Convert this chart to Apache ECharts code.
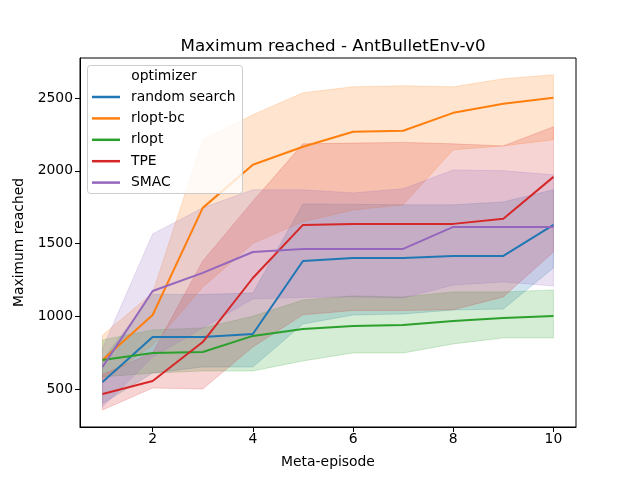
<!DOCTYPE html>
<html>
<head>
<meta charset="utf-8">
<script src="https://cdn.jsdelivr.net/npm/echarts@6/dist/echarts.min.js"></script>
<style>html,body{margin:0;padding:0;background:#fff}#c{width:640px;height:480px}</style>
</head>
<body>
<div id="c"></div>
<script>
var metaEpisodes = [1,2,3,4,5,6,7,8,9,10];
var seriesNames = ['random search','rlopt-bc','rlopt','TPE','SMAC'];
var colors = ['#1f77b4','#ff7f0e','#2ca02c','#d62728','#9467bd'];
var yTicks = [500,1000,1500,2000,2500];
var xTicks = [2,4,6,8,10];

var randomSearchMean = [548,858,858,878,1380,1401,1401,1415,1415,1628];
var randomSearchLow  = [400,610,651,651,947,1009,1016,1043,1050,1332];
var randomSearchHigh = [700,1150,1150,1160,1772,1770,1766,1766,1786,1869];

var rloptBcMean = [700,1009,1745,2041,2165,2268,2275,2398,2460,2502];
var rloptBcLow  = [560,800,1200,1500,1650,1730,1766,2144,2171,2213];
var rloptBcHigh = [871,1160,2213,2385,2536,2577,2584,2577,2632,2660];

var rloptMean = [700,748,754,865,913,933,940,968,988,1002];
var rloptLow  = [583,610,624,624,693,748,748,810,851,851];
var rloptHigh = [837,906,920,1000,1112,1140,1133,1167,1167,1181];

var tpeMean = [466,555,823,1263,1628,1635,1635,1635,1670,1958];
var tpeLow  = [356,507,500,789,1010,1040,1040,1045,1133,1442];
var tpeHigh = [600,750,1380,1790,2185,2190,2195,2185,2171,2302];

var smacMean = [651,1174,1298,1442,1463,1463,1463,1614,1614,1614];
var smacLow  = [376,720,920,1119,1130,1133,1126,1215,1236,1208];
var smacHigh = [780,1566,1745,1869,1869,1848,1876,2006,2000,1972];

var means = [randomSearchMean, rloptBcMean, rloptMean, tpeMean, smacMean];
var lows = [randomSearchLow, rloptBcLow, rloptLow, tpeLow, smacLow];
var highs = [randomSearchHigh, rloptBcHigh, rloptHigh, tpeHigh, smacHigh];

function hexA(hex, a){
  var r=parseInt(hex.substr(1,2),16),g=parseInt(hex.substr(3,2),16),b=parseInt(hex.substr(5,2),16);
  return 'rgba('+r+','+g+','+b+','+a+')';
}

var FONT = 'DejaVu Sans';
var series = [];
seriesNames.forEach(function(name, k){
  series.push({
    type:'custom', name: name+' band', z:1, silent:true,
    data: metaEpisodes.map(function(x,i){return [x, lows[k][i], highs[k][i]];}),
    encode:{x:0, y:[1,2]},
    clip:true,
    renderItem: function(params, api){
      if (params.dataIndex !== 0) return null;
      var n = params.dataInsideLength;
      var up=[], dn=[];
      for (var i=0;i<n;i++){
        var x = api.value(0,i);
        up.push(api.coord([x, api.value(2,i)]));
        dn.push(api.coord([x, api.value(1,i)]));
      }
      var pts = up.concat(dn.reverse());
      return {type:'polygon', shape:{points:pts},
        style:{fill: hexA(colors[k],0.2), stroke: hexA(colors[k],0.2), lineWidth:1}};
    }
  });
});
seriesNames.forEach(function(name, k){
  series.push({
    type:'line', name:name, z:2,
    data: metaEpisodes.map(function(x,i){return [x, means[k][i]];}),
    symbol:'none', showSymbol:false,
    lineStyle:{color:colors[k], width:2},
    itemStyle:{color:colors[k]}
  });
});

var chart = echarts.init(document.getElementById('c'), null, {renderer:'canvas'});
chart.setOption({
  animation:false,
  backgroundColor:'#fff',
  title:{text:'Maximum reached - AntBulletEnv-v0', left:328, top:33, textAlign:'center',
    textStyle:{fontFamily:FONT, fontSize:16.7, fontWeight:'normal', color:'#000'}},
  grid:{left:80, right:64, top:58, bottom:53, show:true, borderColor:'#000', borderWidth:1, backgroundColor:'transparent'},
  xAxis:{type:'value', min:0.55, max:10.45,
    name:'Meta-episode', nameLocation:'middle', nameGap:28,
    nameTextStyle:{fontFamily:FONT, fontSize:13.9, color:'#000'},
    axisLine:{show:true, onZero:false, lineStyle:{color:'#000'}},
    axisTick:{show:true, length:5, customValues:xTicks, lineStyle:{color:'#000'}},
    axisLabel:{customValues:xTicks, fontFamily:FONT, fontSize:13.9, color:'#000', margin:5},
    splitLine:{show:false}},
  yAxis:{type:'value', min:239, max:2775,
    name:'Maximum reached', nameLocation:'middle', nameGap:43, nameRotate:90,
    nameTextStyle:{fontFamily:FONT, fontSize:13.9, color:'#000'},
    axisLine:{show:true, onZero:false, lineStyle:{color:'#000'}},
    axisTick:{show:true, length:5, customValues:yTicks, lineStyle:{color:'#000'}},
    axisLabel:{customValues:yTicks, fontFamily:FONT, fontSize:13.9, color:'#000', margin:7,
      formatter:function(v){return String(v);}},
    splitLine:{show:false}},
  legend:{
    data: seriesNames, orient:'vertical', left:92, top:90, padding:0,
    itemWidth:28, itemHeight:2.5, itemGap:7.4, icon:'rect',
    textStyle:{fontFamily:FONT, fontSize:13.9, color:'#000', lineHeight:14, padding:[0,0,0,6]},
    selectedMode:false, z:6
  },
  graphic:[
    {type:'rect', z:5, shape:{x:87.5, y:65.5, width:155, height:128, r:3},
      style:{fill:'rgba(255,255,255,0.8)', stroke:'#cccccc', lineWidth:1}},
    {type:'text', z:7, x:164, y:76, style:{text:'optimizer', font:'13.9px "DejaVu Sans"', fill:'#000', textAlign:'center', textVerticalAlign:'middle'}}
  ],
  series: series
});
</script>
</body>
</html>
